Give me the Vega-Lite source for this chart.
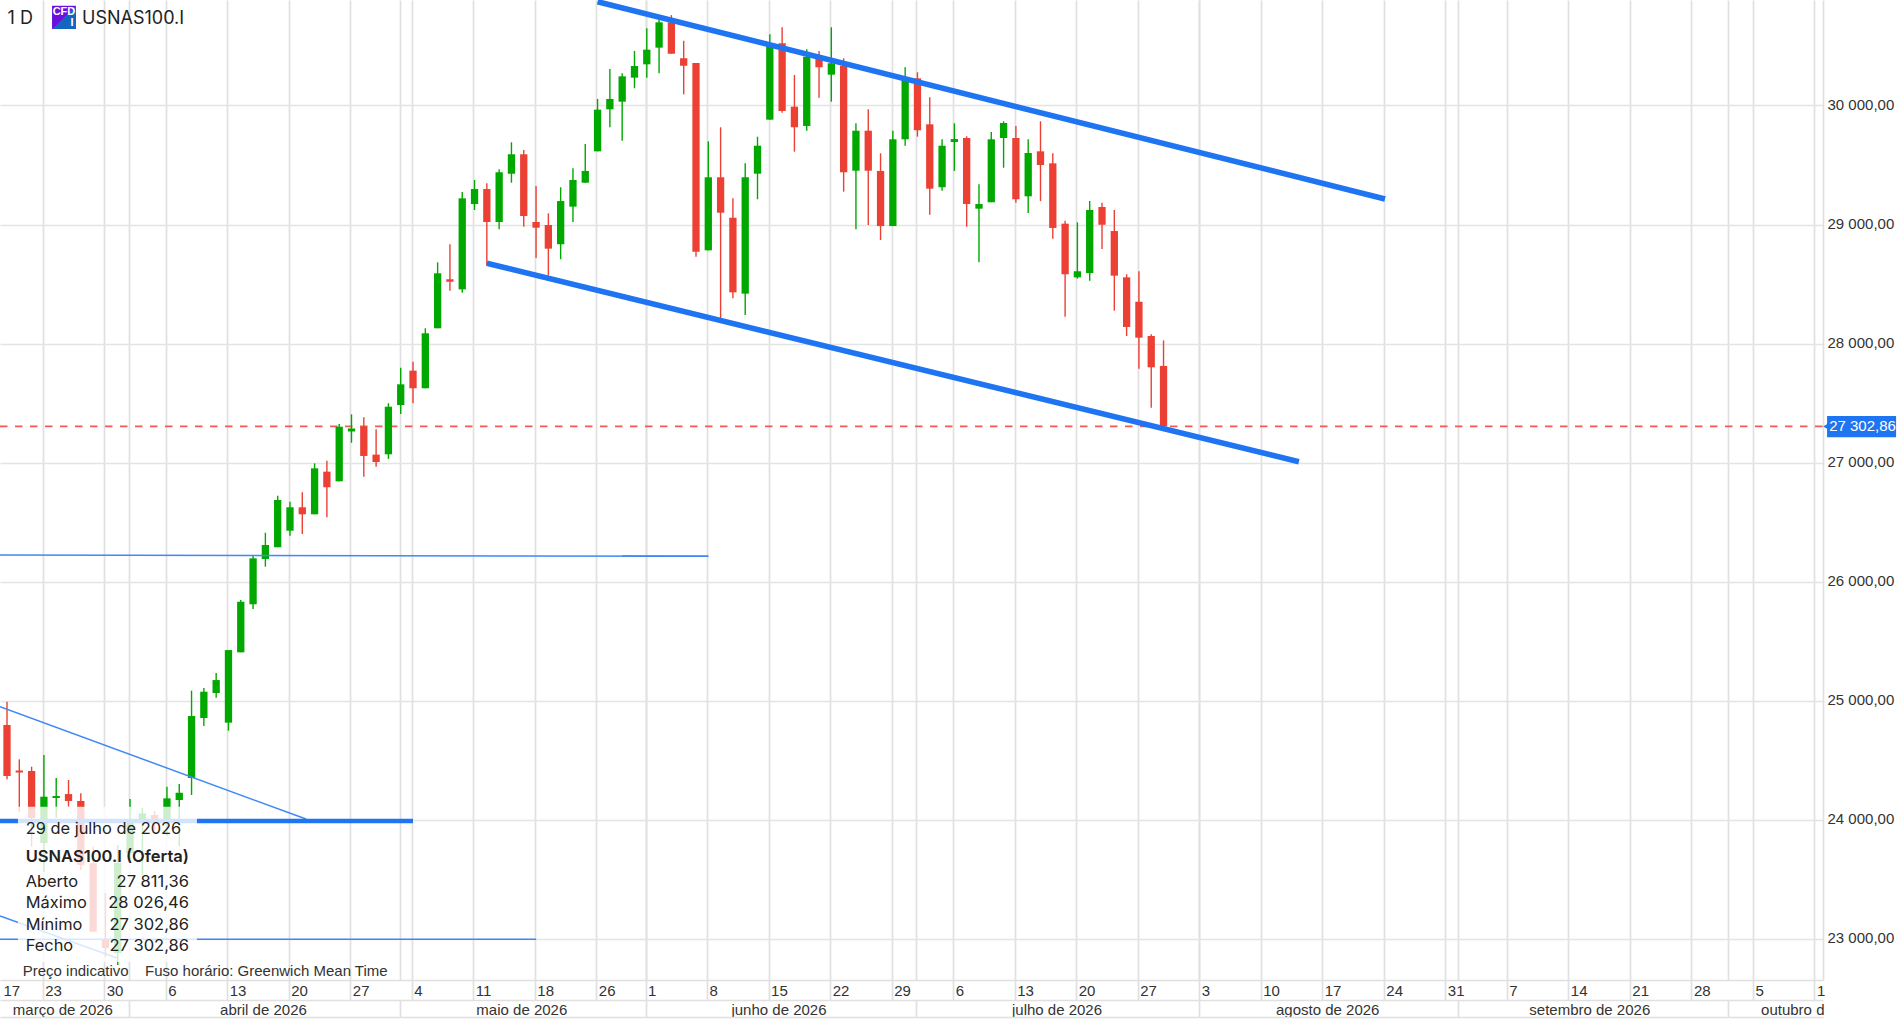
{
  "$schema": "https://vega.github.io/schema/vega-lite/v6.json",
  "description": "USNAS100.I daily candles with channel lines",
  "width": 1823,
  "height": 980,
  "autosize": {"type": "none"},
  "padding": {"left": 0, "top": 0, "right": 79, "bottom": 40},
  "background": "white",
  "config": {"view": {"stroke": null}, "scale": {"continuousPadding": 0}},
  "datasets": {
    "candles": [
      {"i":1,"o":24794,"h":24990,"l":24338,"c":24366},
      {"i":2,"o":24412,"h":24506,"l":24063,"c":24395},
      {"i":3,"o":24408,"h":24444,"l":23772,"c":24013},
      {"i":4,"o":23803,"h":24542,"l":23562,"c":24192},
      {"i":5,"o":24181,"h":24349,"l":24013,"c":24198},
      {"i":6,"o":24214,"h":24332,"l":24108,"c":24156},
      {"i":7,"o":24156,"h":24220,"l":23576,"c":23618},
      {"i":8,"o":23632,"h":23772,"l":23058,"c":23058},
      {"i":9,"o":22988,"h":23383,"l":22845,"c":22920},
      {"i":10,"o":22878,"h":23786,"l":22778,"c":23635},
      {"i":11,"o":23719,"h":24173,"l":23660,"c":23996},
      {"i":12,"o":23971,"h":24097,"l":23534,"c":24052},
      {"i":13,"o":24038,"h":24074,"l":23912,"c":23971},
      {"i":14,"o":23988,"h":24276,"l":23862,"c":24178},
      {"i":15,"o":24164,"h":24298,"l":23777,"c":24225},
      {"i":16,"o":24349,"h":25083,"l":24206,"c":24870},
      {"i":17,"o":24853,"h":25105,"l":24786,"c":25074},
      {"i":18,"o":25063,"h":25231,"l":25024,"c":25172},
      {"i":19,"o":24814,"h":25424,"l":24746,"c":25424},
      {"i":20,"o":25405,"h":25845,"l":25405,"c":25830},
      {"i":21,"o":25809,"h":26217,"l":25769,"c":26195},
      {"i":22,"o":26189,"h":26410,"l":26125,"c":26307},
      {"i":23,"o":26288,"h":26721,"l":26288,"c":26685},
      {"i":24,"o":26427,"h":26671,"l":26385,"c":26624},
      {"i":25,"o":26624,"h":26750,"l":26399,"c":26565},
      {"i":26,"o":26565,"h":26993,"l":26565,"c":26951},
      {"i":27,"o":26923,"h":27015,"l":26540,"c":26792},
      {"i":28,"o":26842,"h":27324,"l":26842,"c":27301},
      {"i":29,"o":27261,"h":27405,"l":27166,"c":27286},
      {"i":30,"o":27301,"h":27380,"l":26881,"c":27055},
      {"i":31,"o":27066,"h":27279,"l":26965,"c":27004},
      {"i":32,"o":27069,"h":27498,"l":27030,"c":27469},
      {"i":33,"o":27483,"h":27797,"l":27408,"c":27657},
      {"i":34,"o":27772,"h":27847,"l":27498,"c":27624},
      {"i":35,"o":27624,"h":28128,"l":27624,"c":28086},
      {"i":36,"o":28128,"h":28682,"l":28128,"c":28590},
      {"i":37,"o":28540,"h":28834,"l":28444,"c":28519},
      {"i":38,"o":28455,"h":29273,"l":28427,"c":29220},
      {"i":39,"o":29172,"h":29374,"l":29122,"c":29298},
      {"i":40,"o":29298,"h":29346,"l":28660,"c":29021},
      {"i":41,"o":29021,"h":29464,"l":28960,"c":29439},
      {"i":42,"o":29427,"h":29691,"l":29351,"c":29590},
      {"i":43,"o":29590,"h":29626,"l":28981,"c":29071},
      {"i":44,"o":29021,"h":29324,"l":28718,"c":28973},
      {"i":45,"o":28996,"h":29094,"l":28570,"c":28797},
      {"i":46,"o":28834,"h":29313,"l":28708,"c":29197},
      {"i":47,"o":29150,"h":29472,"l":29021,"c":29374},
      {"i":48,"o":29351,"h":29676,"l":29351,"c":29450},
      {"i":49,"o":29615,"h":30055,"l":29615,"c":29965},
      {"i":50,"o":29968,"h":30307,"l":29817,"c":30055},
      {"i":51,"o":30032,"h":30271,"l":29704,"c":30245},
      {"i":52,"o":30234,"h":30458,"l":30145,"c":30332},
      {"i":53,"o":30346,"h":30649,"l":30234,"c":30469},
      {"i":54,"o":30486,"h":30718,"l":30271,"c":30699},
      {"i":55,"o":30699,"h":30760,"l":30435,"c":30435},
      {"i":56,"o":30397,"h":30544,"l":30094,"c":30334},
      {"i":57,"o":30357,"h":30357,"l":28729,"c":28771},
      {"i":58,"o":28783,"h":29699,"l":28783,"c":29397},
      {"i":59,"o":29397,"h":29817,"l":28212,"c":29099},
      {"i":60,"o":29057,"h":29220,"l":28380,"c":28430},
      {"i":61,"o":28419,"h":29514,"l":28240,"c":29397},
      {"i":62,"o":29427,"h":29738,"l":29212,"c":29662},
      {"i":63,"o":29881,"h":30598,"l":29881,"c":30508},
      {"i":64,"o":30523,"h":30657,"l":29940,"c":29954},
      {"i":65,"o":29990,"h":30256,"l":29612,"c":29817},
      {"i":66,"o":29828,"h":30472,"l":29788,"c":30410},
      {"i":67,"o":30397,"h":30458,"l":30066,"c":30321},
      {"i":68,"o":30259,"h":30657,"l":30032,"c":30355},
      {"i":69,"o":30334,"h":30397,"l":29276,"c":29439},
      {"i":70,"o":29452,"h":29850,"l":28960,"c":29788},
      {"i":71,"o":29788,"h":29968,"l":28996,"c":29452},
      {"i":72,"o":29450,"h":29598,"l":28870,"c":28987},
      {"i":73,"o":28987,"h":29788,"l":28987,"c":29716},
      {"i":74,"o":29716,"h":30321,"l":29662,"c":30214},
      {"i":75,"o":30228,"h":30279,"l":29738,"c":29792},
      {"i":76,"o":29842,"h":30069,"l":29082,"c":29301},
      {"i":77,"o":29313,"h":29716,"l":29284,"c":29662},
      {"i":78,"o":29693,"h":29850,"l":29450,"c":29718},
      {"i":79,"o":29727,"h":29741,"l":28981,"c":29172},
      {"i":80,"o":29133,"h":29338,"l":28682,"c":29172},
      {"i":81,"o":29187,"h":29777,"l":29187,"c":29716},
      {"i":82,"o":29727,"h":29867,"l":29477,"c":29853},
      {"i":83,"o":29727,"h":29828,"l":29183,"c":29212},
      {"i":84,"o":29237,"h":29716,"l":29097,"c":29601},
      {"i":85,"o":29615,"h":29867,"l":29197,"c":29500},
      {"i":86,"o":29514,"h":29598,"l":28881,"c":28971},
      {"i":87,"o":29007,"h":29032,"l":28225,"c":28582},
      {"i":88,"o":28556,"h":29018,"l":28545,"c":28607},
      {"i":89,"o":28592,"h":29197,"l":28528,"c":29122},
      {"i":90,"o":29147,"h":29183,"l":28794,"c":28998},
      {"i":91,"o":28945,"h":29122,"l":28276,"c":28570},
      {"i":92,"o":28556,"h":28582,"l":28063,"c":28139},
      {"i":93,"o":28351,"h":28607,"l":27788,"c":28049},
      {"i":94,"o":28063,"h":28077,"l":27461,"c":27800},
      {"i":95,"o":27811.36,"h":28026.46,"l":27302.86,"c":27302.86}
    ]
  },
  "encoding": {
    "x": {"field": "i", "type": "quantitative", "scale": {"domain": [0.431, 148.6], "nice": false}, "axis": null},
    "y": {"field": "v", "type": "quantitative", "scale": {"domain": [22651.6, 30886.5], "nice": false}, "axis": null}
  },
  "resolve": {"axis": {"x": "independent", "y": "independent"}},
  "layer": [
    {
      "data": {"values": [{"i": 0.431, "v": 27302.86}, {"i": 148.6, "v": 27302.86}]},
      "mark": {"type": "line", "color": "#f25a52", "strokeWidth": 1.7, "strokeDash": [7.5, 7.5]},
      "encoding": {
        "x": {
          "field": "i", "type": "quantitative", "scale": {"domain": [0.431, 148.6], "nice": false},
          "axis": {
            "orient": "bottom", "title": null,
            "values": [0.6,4,9,14,19,24,29,34,39,44,49,53,58,63,68,73,78,83,88,93,98,103,108,113,118,123,128,133,138,143,148],
            "labelExpr": "{'0.6':'17','4':'23','9':'30','14':'6','19':'13','24':'20','29':'27','34':'4','39':'11','44':'18','49':'26','53':'1','58':'8','63':'15','68':'22','73':'29','78':'6','83':'13','88':'20','93':'27','98':'3','103':'10','108':'17','113':'24','118':'31','123':'7','128':'14','133':'21','138':'28','143':'5','148':'1'}[datum.value]",
            "grid": true, "gridColor": "#e0e0e0", "gridWidth": 1.7,
            "gridOpacity": {"condition": {"test": "datum.value < 1", "value": 0}, "value": 1},
            "tickOpacity": {"condition": {"test": "datum.value < 1", "value": 0}, "value": 1},
            "tickOffset": -1.2, "tickSize": 20, "tickColor": "#e0e0e0", "tickWidth": 1.7,
            "domainColor": "#e0e0e0", "domainWidth": 1.7,
            "labelAlign": "left", "labelBaseline": "middle", "labelPadding": -10, "labelOffset": 2,
            "labelFlush": false, "labelOverlap": false, "labelBound": false,
            "labelFont": "Liberation Sans", "labelFontSize": 15, "labelColor": "#333333"
          }
        },
        "y": {
          "field": "v", "type": "quantitative", "scale": {"domain": [22651.6, 30886.5], "nice": false},
          "axis": {
            "orient": "right", "title": null,
            "values": [23000,24000,25000,26000,27000,28000,29000,30000],
            "labelExpr": "replace(replace(format(datum.value, ',.2f'), ',', ' '), '.', ',')",
            "grid": true, "gridColor": "#e4e4e4", "gridWidth": 1.7,
            "ticks": false, "tickSize": 0,
            "domainColor": "#e0e0e0", "domainWidth": 1.7,
            "labelPadding": 4, "labelOffset": -1, "labelBaseline": "middle",
            "labelOverlap": false, "labelBound": false, "labelFlush": false,
            "labelFont": "Liberation Sans", "labelFontSize": 15, "labelColor": "#333333"
          }
        }
      }
    },
    {
      "data": {"name": "candles"},
      "mark": {"type": "rule", "strokeWidth": 1.4},
      "encoding": {
        "y": {"field": "h", "type": "quantitative", "scale": {"domain": [22651.6, 30886.5], "nice": false}, "axis": null},
        "y2": {"field": "l"},
        "color": {"condition": {"test": "datum.c < datum.o", "value": "#ec4034"}, "value": "#00a800"}
      }
    },
    {
      "data": {"name": "candles"},
      "mark": {"type": "bar", "size": 7.3, "orient": "vertical"},
      "encoding": {
        "y": {"field": "o", "type": "quantitative", "scale": {"domain": [22651.6, 30886.5], "nice": false}, "axis": null},
        "y2": {"field": "c"},
        "color": {"condition": {"test": "datum.c < datum.o", "value": "#ec4034"}, "value": "#00a800"}
      }
    },
    {
      "data": {"values": [
        {"id": "h26", "i": 0.431, "v": 26223},
        {"id": "h26", "i": 58, "v": 26212},
        {"id": "h26b", "i": 51, "v": 26214},
        {"id": "h26b", "i": 58, "v": 26212},
        {"id": "d24", "i": 0.431, "v": 24948},
        {"id": "d24", "i": 25.3, "v": 24004},
        {"id": "d23", "i": 0.431, "v": 23189},
        {"id": "d23", "i": 9.94, "v": 22836},
        {"id": "h23", "i": 0.431, "v": 22993},
        {"id": "h23", "i": 44, "v": 22993}
      ]},
      "mark": {"type": "line", "color": "#3f88f5", "strokeWidth": 1.5},
      "encoding": {
        "x": {
          "field": "i", "type": "quantitative", "scale": {"domain": [0.431, 148.6], "nice": false},
          "axis": {
            "orient": "bottom", "title": null, "offset": 20,
            "values": [11,33,53,75,98,119,141],
            "labels": false,
            "grid": true, "gridColor": "#e0e0e0", "gridWidth": 1.7,
            "tickOffset": -1.2, "tickSize": 17, "tickColor": "#e0e0e0", "tickWidth": 1.7,
            "domainColor": "#e0e0e0", "domainWidth": 1.7
          }
        },
        "detail": {"field": "id"}
      }
    },
    {
      "data": {"values": [
        {"id": "upper", "i": 49, "v": 30872},
        {"id": "upper", "i": 113, "v": 29214},
        {"id": "lower", "i": 40, "v": 28674},
        {"id": "lower", "i": 106, "v": 27007}
      ]},
      "mark": {"type": "line", "color": "#1f74f2", "strokeWidth": 5.6, "strokeCap": "butt"},
      "encoding": {"detail": {"field": "id"}}
    },
    {
      "data": {"values": [
        {"id": "h24", "i": 0.431, "v": 23987},
        {"id": "h24", "i": 34, "v": 23987}
      ]},
      "mark": {"type": "line", "color": "#1f74f2", "strokeWidth": 4.5, "strokeCap": "butt"},
      "encoding": {
        "x": {
          "field": "i", "type": "quantitative", "scale": {"domain": [0.431, 148.6], "nice": false},
          "axis": {
            "orient": "bottom", "title": null, "offset": 37,
            "values": [5.6,21.9,42.9,63.8,86.4,108.4,129.7,146.2],
            "labelExpr": "{'5.6':'março de 2026','21.9':'abril de 2026','42.9':'maio de 2026','63.8':'junho de 2026','86.4':'julho de 2026','108.4':'agosto de 2026','129.7':'setembro de 2026','146.2':'outubro d'}[datum.value]",
            "grid": false, "ticks": false, "tickSize": 0, "tickOffset": -1.2,
            "domainColor": "#e0e0e0", "domainWidth": 1.7,
            "labelAlign": "center", "labelBaseline": "middle", "labelPadding": -8,
            "labelFlush": false, "labelOverlap": false, "labelBound": false,
            "labelFont": "Liberation Sans", "labelFontSize": 15, "labelColor": "#333333"
          }
        }
      }
    },
    {
      "data": {"values": [{"i": 1.89, "i2": 16.44, "v": 24108, "v2": 22803}]},
      "mark": {"type": "rect", "color": "white", "opacity": 0.8},
      "encoding": {"x2": {"field": "i2"}, "y2": {"field": "v2"}}
    },
    {
      "data": {"values": [
        {"i": 2.52, "v": 23921, "t": "29 de julho de 2026"},
        {"i": 2.52, "v": 23475, "t": "Aberto"},
        {"i": 2.52, "v": 23299, "t": "Máximo"},
        {"i": 2.52, "v": 23114, "t": "Mínimo"},
        {"i": 2.52, "v": 22938, "t": "Fecho"}
      ]},
      "mark": {"type": "text", "align": "left", "baseline": "middle", "font": "Inter", "fontSize": 16.4, "color": "#222222"},
      "encoding": {"text": {"field": "t"}}
    },
    {
      "data": {"values": [{"i": 2.52, "v": 23685, "t": "USNAS100.I (Oferta)"}]},
      "mark": {"type": "text", "align": "left", "baseline": "middle", "font": "Inter", "fontSize": 16.5, "fontWeight": 600, "color": "#222222"},
      "encoding": {"text": {"field": "t"}}
    },
    {
      "data": {"values": [
        {"i": 15.79, "v": 23475, "t": "27 811,36"},
        {"i": 15.79, "v": 23299, "t": "28 026,46"},
        {"i": 15.79, "v": 23114, "t": "27 302,86"},
        {"i": 15.79, "v": 22938, "t": "27 302,86"}
      ]},
      "mark": {"type": "text", "align": "right", "baseline": "middle", "font": "Inter", "fontSize": 16.5, "color": "#222222"},
      "encoding": {"text": {"field": "t"}}
    },
    {
      "data": {"values": [
        {"i": 2.276, "v": 22728, "t": "Preço indicativo"},
        {"i": 12.22, "v": 22728, "t": "Fuso horário: Greenwich Mean Time"}
      ]},
      "mark": {"type": "text", "align": "left", "baseline": "middle", "font": "Liberation Sans", "fontSize": 15, "color": "#333333"},
      "encoding": {"text": {"field": "t"}}
    },
    {
      "data": {"values": [
        {"i": 1.04, "v": 30725, "t": "1 D"},
        {"i": 7.1, "v": 30725, "t": "USNAS100.I"}
      ]},
      "mark": {"type": "text", "align": "left", "baseline": "middle", "font": "Inter", "fontSize": 18, "color": "#222222"},
      "encoding": {"text": {"field": "t"}}
    },
    {
      "data": {"values": [{"i": 4.66, "i2": 6.61, "v": 30838, "v2": 30643}]},
      "mark": {"type": "rect", "color": {"x1": 0, "y1": 0, "x2": 1, "y2": 1, "gradient": "linear", "stops": [{"offset": 0, "color": "#6a10dc"}, {"offset": 0.5, "color": "#6a10dc"}, {"offset": 0.5, "color": "#1565c0"}, {"offset": 1, "color": "#1565c0"}]}},
      "encoding": {"x2": {"field": "i2"}, "y2": {"field": "v2"}}
    },
    {
      "data": {"values": [
        {"i": 5.63, "v": 30785, "t": "CFD"},
        {"i": 6.28, "v": 30690, "t": "I"}
      ]},
      "mark": {"type": "text", "align": "center", "baseline": "middle", "font": "Liberation Sans", "fontWeight": "bold", "fontSize": 11, "color": "white"},
      "encoding": {"text": {"field": "t"}}
    },
    {
      "data": {"values": [{"i": 148.93, "i2": 154.54, "v": 27391, "v2": 27212}]},
      "mark": {"type": "rect", "color": "#1f74f2"},
      "encoding": {"x2": {"field": "i2"}, "y2": {"field": "v2"}}
    },
    {
      "data": {"values": [{"i": 148.85, "v": 27302.86}]},
      "mark": {"type": "point", "shape": "triangle-left", "filled": true, "size": 45, "color": "#1f74f2", "opacity": 1}
    },
    {
      "data": {"values": [{"i": 149.1, "v": 27302.86, "t": "27 302,86"}]},
      "mark": {"type": "text", "align": "left", "baseline": "middle", "font": "Liberation Sans", "fontSize": 15, "color": "white"},
      "encoding": {"text": {"field": "t"}}
    }
  ]
}
